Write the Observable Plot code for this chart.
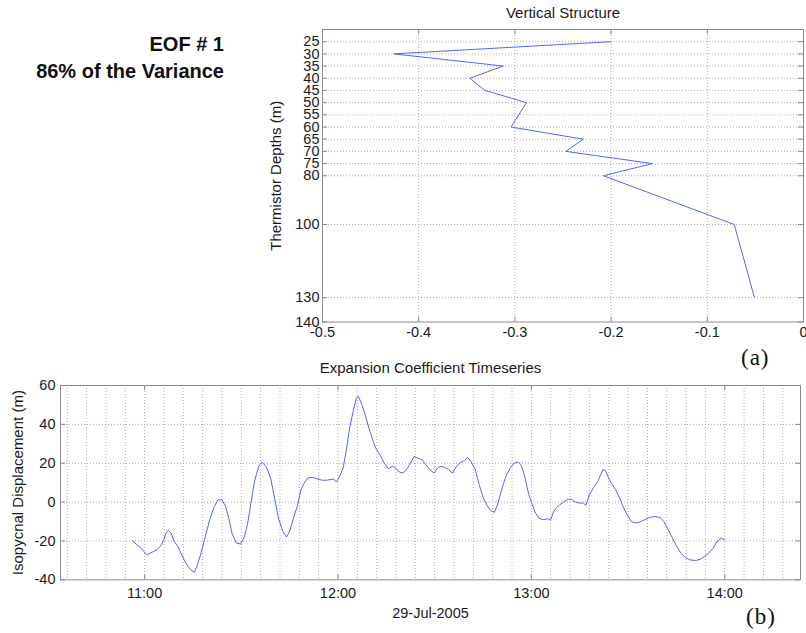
<!DOCTYPE html>
<html>
<head>
<meta charset="utf-8">
<script src="https://cdn.jsdelivr.net/npm/d3@7"></script>
<script src="https://cdn.jsdelivr.net/npm/@observablehq/plot@0.6"></script>
<style>
  body { margin: 0; background: #fff; }
  #fig { position: relative; width: 806px; height: 633px; overflow: hidden;
         font-family: "Liberation Sans", Arial, Helvetica, sans-serif; }
  #fig .panel { position: absolute; left: 0; }
  #fig .panel svg { display: block; }
  .eof { position: absolute; right: 582px; text-align: right; font-weight: bold;
         font-size: 20px; color: #111; line-height: 27px; top: 31px; white-space: nowrap; }
  .tag { position: absolute; font-family: "Liberation Serif", "Times New Roman", serif;
         font-size: 23px; color: #111; letter-spacing: 1px; line-height: 26px; }
</style>
</head>
<body>
<div id="fig">
  <div class="eof">EOF # 1<br>86% of the Variance</div>
  <div class="panel" id="top" style="top:0"></div>
  <div class="panel" id="bottom" style="top:350px"></div>
  <div class="tag" style="left:741px; top:345px">(a)</div>
  <div class="tag" style="left:746px; top:604px">(b)</div>
</div>
<script>
// ---- EOF #1 vertical structure ----
const depths  = [25, 30, 35, 40, 45, 50, 55, 60, 65, 70, 75, 80, 100, 130];
const loading = [-0.2, -0.426, -0.312, -0.347, -0.331, -0.288, -0.296, -0.304,
                 -0.229, -0.247, -0.157, -0.208, -0.072, -0.051];
const depthDomain  = [20, 140];
const depthTicks   = [25, 30, 35, 40, 45, 50, 55, 60, 65, 70, 75, 80, 100, 130, 140];
const loadingDomain = [-0.5, 0];
const loadingTicks  = [-0.5, -0.4, -0.3, -0.2, -0.1, 0];

// ---- expansion coefficient timeseries (minutes after 11:00, 29 Jul 2005) ----
const minutes = [
  -3.7, -2.4, -1.3, -0.3, 0.7, 1.7, 2.8, 3.8, 4.8, 5.9, 6.6, 7.4, 8.2, 9.2, 10.3,
  11.3, 12.5, 13.8, 15.4, 16.4, 17.5, 18.7, 20.2, 21.6, 22.8, 24.0, 25.1, 26.1,
  27.1, 28.5, 29.8, 30.8, 31.9, 32.9, 34.1, 35.4, 36.4, 37.7, 39.1, 40.3, 41.5,
  42.9, 44.0, 45.0, 46.2, 47.5, 48.5, 49.5, 50.6, 52.1, 53.6, 55.2, 56.7, 58.6,
  59.5, 60.5, 61.6, 62.6, 63.6, 64.7, 65.7, 66.3, 67.4, 68.4, 69.6, 70.9, 71.7,
  73.0, 74.3, 75.6, 76.9, 77.9, 79.0, 80.2, 81.6, 82.9, 83.6, 84.7, 86.0, 87.3,
  88.5, 89.8, 90.9, 91.9, 93.0, 94.3, 95.5, 96.8, 98.1, 99.2, 100.2, 101.2,
  102.6, 103.8, 105.1, 106.4, 107.5, 108.5, 109.5, 110.9, 112.1, 113.4, 114.7,
  115.9, 116.8, 117.8, 119.2, 120.3, 121.3, 122.3, 123.6, 125.0, 126.0, 126.7,
  127.6, 128.8, 130.2, 131.5, 132.6, 133.6, 134.9, 136.1, 136.9, 138.0, 139.2,
  140.6, 141.6, 142.2, 143.0, 143.7, 144.8, 146.1, 147.4, 148.4, 149.7, 151.0,
  152.4, 153.6, 155.2, 156.8, 158.3, 159.9, 161.1, 162.5, 163.8, 165.1, 166.4,
  167.7, 169.1, 170.9, 172.4, 173.7, 175.0, 176.4, 177.6, 178.9, 179.9
];
const displacement = [
  -19.9, -22, -23.4, -25.4, -27.1, -26.3, -25.4, -24.6, -22.9, -19.9, -16, -14.6,
  -16, -20.3, -22.9, -26.3, -30.6, -34, -36.3, -32.3, -26.3, -18.6, -9.1, -2.2,
  1.2, 1.2, -2.2, -8.2, -16, -21.1, -21.6, -18.6, -11.7, -1.4, 10.7, 18.4, 20.6,
  18.4, 12.4, 2.1, -8.2, -15.1, -18, -15.1, -8.2, -1.4, 6.4, 9.8, 12.4, 12.7,
  11.9, 11.2, 11.3, 11.9,
  10.3, 13.2, 17.5, 27, 38.1, 46.7, 53.6, 54.5, 50.2, 45, 38.1, 31.3, 27.8, 24.4,
  20.1, 17.2, 18.4, 17.5, 15.5, 14.9, 17.5, 21.3, 23.5, 22.7, 21.8, 19.2, 16.7,
  14.9, 17.5, 18.4, 17.9, 16.7, 14.9, 18.4, 20.6, 21.3, 23, 21, 16.7, 8.9, 2.1,
  -2.2, -4.5, -5.3, -1.4, 7.2, 13.2, 17.5, 20.1, 20.6, 19.2, 14.1, 3.8,
  -1.4, -5.7, -8.2, -9.1, -8.6, -9.1, -5.7, -3.1, -1.4, 0.3, 1.5, 1.2, 0, -0.5,
  -0.5, -1.7, 3.8, 7.2, 10.7, 14.4, 16.7, 16.2, 13.2, 9.8, 6.4, 2.1, -2.2, -6.5,
  -10, -10.8, -10.3, -9.1, -7.9, -7.4, -7.9, -10, -14.3, -18.6, -22.9, -26.3,
  -28.5, -29.7, -30.1, -29.4, -28, -26.3, -23.7, -20.3, -18.6, -19.4
];
const timeDomainMinutes = [-26.1, 203.5];
const hourTicks = ["11:00", "12:00", "13:00", "14:00"];
const displacementDomain = [-40, 60];
const displacementTicks  = [-40, -20, 0, 20, 40, 60];
const dateLabel = "29-Jul-2005";

const base = Date.UTC(2005, 6, 29, 11, 0);
const toDate = m => new Date(base + m * 60000);
const times = minutes.map(toDate);
const hourDates = hourTicks.map(s => {
  const [h, m] = s.split(":").map(Number);
  return new Date(Date.UTC(2005, 6, 29, h, m));
});
const timeDomain = timeDomainMinutes.map(toDate);
const sixMinuteGrid = d3.utcMinute.every(6).range(timeDomain[0], timeDomain[1]);

const blue = "#5563ff";
const frameColor = "#8a8a8a";
const grid = { stroke: "#a8a8a8", strokeOpacity: 1, strokeWidth: 1, strokeDasharray: "1,2" };
const font = '"Liberation Sans", Arial, Helvetica, sans-serif';
const textFill = "#1a1a1a";
const fmt = d => String(d);
const tickFont = "14.5px";

// Top panel: loading vs depth
{
  const W = 806, H = 350, mt = 29, mb = 28.5, ml = 322, mr = 3;
  const innerH = H - mt - mb, innerW = W - ml - mr;
  const tickLen = 5;
  const chart = Plot.plot({
    width: W, height: H,
    marginTop: mt, marginBottom: mb, marginLeft: ml, marginRight: mr,
    style: { fontFamily: font, fontSize: tickFont, color: textFill, background: "transparent", overflow: "visible" },
    x: { domain: loadingDomain },
    y: { domain: depthDomain, reverse: true },
    marks: [
      Plot.gridX(loadingTicks.slice(1, -1), grid),
      Plot.gridY(depthTicks.slice(0, -1), grid),
      Plot.ruleX(loadingTicks, { stroke: frameColor, insetBottom: innerH - tickLen }),
      Plot.ruleX(loadingTicks, { stroke: frameColor, insetTop: innerH - tickLen }),
      Plot.ruleY(depthTicks, { stroke: frameColor, insetRight: innerW - tickLen }),
      Plot.ruleY(depthTicks, { stroke: frameColor, insetLeft: innerW - tickLen }),
      Plot.line(depths, { x: loading, y: depths, stroke: blue, strokeWidth: 1 }),
      Plot.frame({ stroke: frameColor }),
      Plot.axisX({ ticks: loadingTicks, tickFormat: fmt, tickSize: 0, tickPadding: 5, label: null, fill: textFill }),
      Plot.axisY({ ticks: depthTicks, tickFormat: fmt, tickSize: 0, tickPadding: 3, label: null, fill: textFill }),
      Plot.text(["Thermistor Depths (m)"], { frameAnchor: "left", dx: -46, rotate: -90, textAnchor: "middle", lineAnchor: "middle", fontSize: 15, fill: textFill }),
      Plot.text(["Vertical Structure"], { frameAnchor: "top", dy: -16, textAnchor: "middle", lineAnchor: "middle", fontSize: 15, fill: textFill })
    ]
  });
  document.getElementById("top").append(chart);
}

// Bottom panel: expansion coefficient timeseries
{
  const W = 806, H = 283, mt = 35, mb = 53.7, ml = 60, mr = 6;
  const innerH = H - mt - mb, innerW = W - ml - mr;
  const tickLen = 5;
  const chart = Plot.plot({
    width: W, height: H,
    marginTop: mt, marginBottom: mb, marginLeft: ml, marginRight: mr,
    style: { fontFamily: font, fontSize: tickFont, color: textFill, background: "transparent", overflow: "visible" },
    x: { type: "utc", domain: timeDomain },
    y: { domain: displacementDomain },
    marks: [
      Plot.gridX(sixMinuteGrid, grid),
      Plot.gridY(displacementTicks.slice(1, -1), grid),
      Plot.ruleX(hourDates, { stroke: frameColor, insetBottom: innerH - tickLen }),
      Plot.ruleX(hourDates, { stroke: frameColor, insetTop: innerH - tickLen }),
      Plot.ruleY(displacementTicks, { stroke: frameColor, insetRight: innerW - tickLen }),
      Plot.ruleY(displacementTicks, { stroke: frameColor, insetLeft: innerW - tickLen }),
      Plot.line(times, { x: times, y: displacement, stroke: blue, strokeWidth: 1 }),
      Plot.frame({ stroke: frameColor }),
      Plot.axisX({ ticks: hourDates, tickFormat: d3.utcFormat("%H:%M"), tickSize: 0, tickPadding: 8, label: null, fill: textFill }),
      Plot.axisY({ ticks: displacementTicks, tickFormat: fmt, tickSize: 0, tickPadding: 5, label: null, fill: textFill }),
      Plot.text([dateLabel], { frameAnchor: "bottom", dy: 34, textAnchor: "middle", lineAnchor: "middle", fontSize: 14.5, fill: textFill }),
      Plot.text(["Isopycnal Displacement (m)"], { frameAnchor: "left", dx: -42, rotate: -90, textAnchor: "middle", lineAnchor: "middle", fontSize: 15, fill: textFill }),
      Plot.text(["Expansion Coefficient Timeseries"], { frameAnchor: "top", dy: -17, textAnchor: "middle", lineAnchor: "middle", fontSize: 15, fill: textFill })
    ]
  });
  document.getElementById("bottom").append(chart);
}
</script>
</body>
</html>
